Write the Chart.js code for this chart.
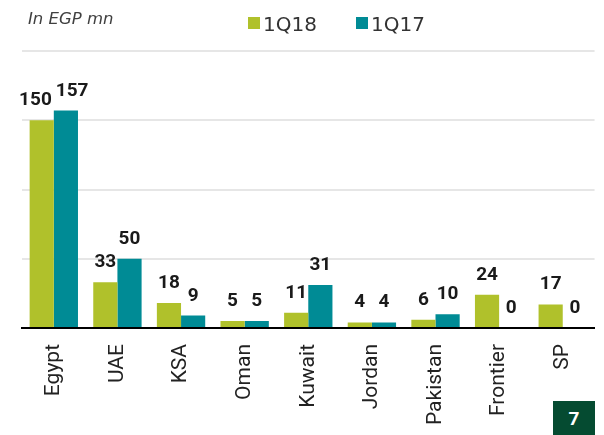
<!DOCTYPE html>
<html>
<head>
<meta charset="utf-8">
<script src="https://cdn.jsdelivr.net/npm/chart.js@4/dist/chart.umd.min.js"></script>
<style>
  html, body { margin: 0; padding: 0; background: #fff; }
  #wrap { position: relative; width: 604px; height: 435px; }
  #c { position: absolute; left: 0; top: 0; }
  #unit { position: absolute; left: 28px; top: 9px; font: italic 16.5px "DejaVu Sans", sans-serif; color: #404040; }
  #page { position: absolute; left: 553px; top: 401px; width: 42px; height: 34px; background: #054b31; color: #fff;
          font: bold 19px Roboto, sans-serif; text-align: center; line-height: 36px; }
</style>
</head>
<body>
<div id="wrap">
  <canvas id="c" width="604" height="435"></canvas>
  <div id="unit">In EGP mn</div>
  <div id="page">7</div>
</div>
<script>
const categories = ["Egypt", "UAE", "KSA", "Oman", "Kuwait", "Jordan", "Pakistan", "Frontier", "SP"];
const series1Q18 = [150, 33, 18, 5, 11, 4, 6, 24, 17];
const series1Q17 = [157, 50, 9, 5, 31, 4, 10, 0, 0];
const seriesNames = ["1Q18", "1Q17"];
const colors = ["#b0c12b", "#008b95"];

const labelPlugin = {
  id: 'valueLabels',
  afterDatasetsDraw(chart) {
    const ctx = chart.ctx;
    ctx.save();
    ctx.font = 'bold 19px Roboto, sans-serif';
    ctx.fillStyle = '#1a1a1a';
    ctx.textAlign = 'center';
    ctx.textBaseline = 'alphabetic';
    const m0 = chart.getDatasetMeta(0), m1 = chart.getDatasetMeta(1);
    const d0 = chart.data.datasets[0].data, d1 = chart.data.datasets[1].data;
    m0.data.forEach((el0, j) => {
      const el1 = m1.data[j];
      const t0 = String(d0[j]), t1 = String(d1[j]);
      const w0 = ctx.measureText(t0).width, w1 = ctx.measureText(t1).width;
      let x0 = el0.x, x1 = el1.x;
      let y0 = el0.y - 15, y1 = el1.y - 15;
      const overlap = (x0 + w0 / 2 + 4) - (x1 - w1 / 2);
      if (overlap > 0 && Math.abs(y0 - y1) < 16) {
        x0 -= overlap / 2; x1 += overlap / 2;
      }
      ctx.fillText(t0, x0, y0);
      ctx.fillText(t1, x1, y1);
    });
    ctx.restore();
  }
};

const legendPlugin = {
  id: 'customLegend',
  afterDraw(chart) {
    const ctx = chart.ctx;
    ctx.save();
    ctx.font = '20px "DejaVu Sans", sans-serif';
    ctx.textBaseline = 'alphabetic';
    const xs = [248, 356];
    chart.data.datasets.forEach((ds, i) => {
      ctx.fillStyle = ds.backgroundColor;
      ctx.fillRect(xs[i], 17, 12, 12);
      ctx.fillStyle = '#333';
      ctx.fillText(ds.label, xs[i] + 15, 31);
    });
    ctx.restore();
  }
};

new Chart(document.getElementById('c'), {
  type: 'bar',
  data: {
    labels: categories,
    datasets: [
      { label: seriesNames[0], data: series1Q18, backgroundColor: colors[0] },
      { label: seriesNames[1], data: series1Q17, backgroundColor: colors[1] }
    ]
  },
  options: {
    responsive: false,
    animation: false,
    devicePixelRatio: 1,
    layout: { padding: { left: 22, top: 51, right: 1, bottom: 0 } },
    datasets: { bar: { categoryPercentage: 0.76, barPercentage: 1.0 } },
    plugins: { legend: { display: false }, tooltip: { enabled: false } },
    scales: {
      x: {
        grid: { display: false, drawTicks: false },
        border: { display: true, color: '#000', width: 2 },
        ticks: { minRotation: 90, maxRotation: 90, padding: 16, color: '#222',
                 font: { family: 'Roboto, sans-serif', size: 21 } },
        afterFit(scale) { scale.height = 107; }
      },
      y: {
        min: 0, max: 200,
        ticks: { display: false, stepSize: 50 },
        grid: { color: '#e6e6e6', lineWidth: 2, drawTicks: false },
        border: { display: false },
        afterFit(scale) { scale.width = 0; }
      }
    }
  },
  plugins: [labelPlugin, legendPlugin]
});
</script>
</body>
</html>
